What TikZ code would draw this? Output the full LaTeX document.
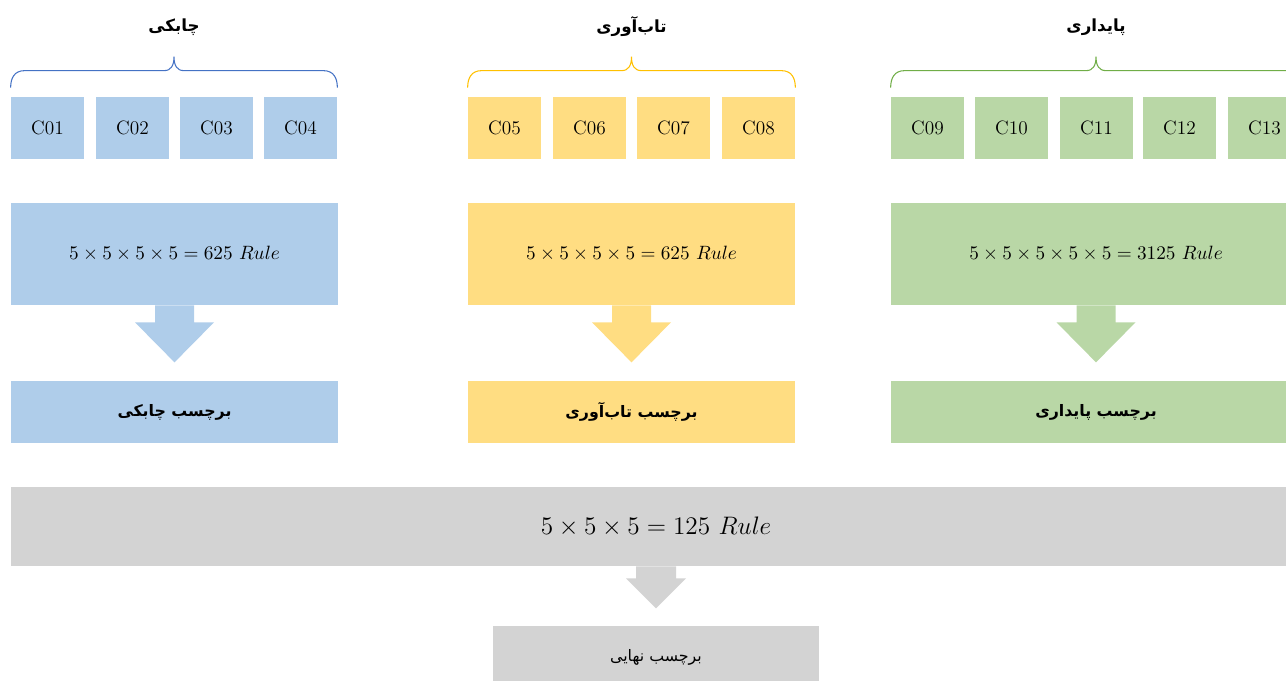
\documentclass[tikz,border=0pt]{standalone}
\usepackage{fontspec}
\usepackage{tikz}
\usetikzlibrary{calc}
\TeXXeTstate=1
\newfontfamily\arabicfont[Script=Arabic]{DejaVu Sans}
\definecolor{agileF}{HTML}{AFCDEA}
\definecolor{agileL}{HTML}{4472C4}
\definecolor{resilF}{HTML}{FFDD82}
\definecolor{resilL}{HTML}{FFC000}
\definecolor{sustF}{HTML}{B9D7A6}
\definecolor{sustL}{HTML}{70AD47}
\definecolor{finalF}{HTML}{D3D3D3}
\def\blockarrow[#1](#2)(#3:#4:#5:#6){\fill[#1] ($(#2)+(-#3,0)$) -- ($(#2)+(#3,0)$) -- ($(#2)+(#3,#4)$) -- ($(#2)+(#5,#4)$) -- ($(#2)+(0,#4+#6)$) -- ($(#2)+(-#5,#4)$) -- ($(#2)+(-#3,#4)$) -- cycle;}
\def\topbrace[#1](#2)(#3){\draw[#1] ($(#2.north west)+(0,-9)$) .. controls ($(#2.north west)+(0,-19)$) and ($(#2.north west)+(4,-26)$) .. ($(#2.north west)+(14,-26)$)
	-- ($(#2.north west)!0.5!(#3.north east)+(-10,-26)$) .. controls ($(#2.north west)!0.5!(#3.north east)+(-3,-26)$) and ($(#2.north west)!0.5!(#3.north east)+(0,-31)$) .. ($(#2.north west)!0.5!(#3.north east)+(0,-40)$)
	.. controls ($(#2.north west)!0.5!(#3.north east)+(0,-31)$) and ($(#2.north west)!0.5!(#3.north east)+(3,-26)$) .. ($(#2.north west)!0.5!(#3.north east)+(10,-26)$)
	-- ($(#3.north east)+(-14,-26)$) .. controls ($(#3.north east)+(-4,-26)$) and ($(#3.north east)+(0,-19)$) .. ($(#3.north east)+(0,-9)$);}

\begin{document}
\begin{tikzpicture}[x=0.2mm, y=-0.2mm,
	cbox/.style={rectangle, minimum width=1.46cm, minimum height=1.24cm, inner sep=0pt, font=\fontsize{11}{13}\selectfont},
	rulebox/.style={rectangle, minimum height=2.04cm, inner sep=0pt, font=\fontsize{11}{14}\selectfont},
	tagbox/.style={rectangle, minimum height=1.24cm, inner sep=0pt, font=\arabicfont\bfseries\fontsize{9}{12}\selectfont},
	title/.style={font=\arabicfont\bfseries\fontsize{9.5}{12}\selectfont}]
	%%%%% START %%%%%
	\clip (0,0) rectangle (1286,681);
	
	% agility
	\node[cbox, fill=agileF] (c01) at (47.5, 128) {C01};
	\node[cbox, fill=agileF] (c02) at (132.5, 128) {C02};
	\node[cbox, fill=agileF] (c03) at (216.5, 128) {C03};
	\node[cbox, fill=agileF] (c04) at (300.5, 128) {C04};
	\topbrace[agileL, line width=0.6pt](c01)(c04)
	\node[title] (agile) at (174, 27) {\beginR چابکی\endR};
	\node[rulebox, fill=agileF, minimum width=6.54cm] (r1) at (174.5, 254) {$5\times5\times5\times5=625\ Rule$};
	\node[tagbox, fill=agileF, minimum width=6.54cm] (t1) at (174.5, 412) {\beginR برچسب چابکی\endR};
	\blockarrow[agileF](r1.south)(19.5:17:39.5:40)
	
	% resilience
	\node[cbox, fill=resilF] (c05) at (504.5, 128) {C05};
	\node[cbox, fill=resilF] (c06) at (589.5, 128) {C06};
	\node[cbox, fill=resilF] (c07) at (673.5, 128) {C07};
	\node[cbox, fill=resilF] (c08) at (758.5, 128) {C08};
	\topbrace[resilL, line width=0.6pt](c05)(c08)
	\node[title] (resil) at (631.5, 27) {\beginR تاب‌آوری\endR};
	\node[rulebox, fill=resilF, minimum width=6.54cm] (r2) at (631.5, 254) {$5\times5\times5\times5=625\ Rule$};
	\node[tagbox, fill=resilF, minimum width=6.54cm] (t2) at (631.5, 412) {\beginR برچسب تاب‌آوری\endR};
	\blockarrow[resilF](r2.south)(19.5:17:39.5:40)
	
	% sustainability
	\node[cbox, fill=sustF] (c09) at (927.5, 128) {C09};
	\node[cbox, fill=sustF] (c10) at (1011.5, 128) {C10};
	\node[cbox, fill=sustF] (c11) at (1096.5, 128) {C11};
	\node[cbox, fill=sustF] (c12) at (1179.5, 128) {C12};
	\node[cbox, fill=sustF] (c13) at (1264.5, 128) {C13};
	\topbrace[sustL, line width=0.6pt](c09)(c13)
	\node[title] (sust) at (1096, 27) {\beginR پایداری\endR};
	\node[rulebox, fill=sustF, minimum width=8.2cm] (r3) at (1096, 254) {$5\times5\times5\times5\times5=3125\ Rule$};
	\node[tagbox, fill=sustF, minimum width=8.2cm] (t3) at (1096, 412) {\beginR برچسب پایداری\endR};
	\blockarrow[sustF](r3.south)(19.5:17:39.5:40)
	
	% final
	\node[rectangle, fill=finalF, minimum width=25.8cm, minimum height=1.58cm, inner sep=0pt, font=\fontsize{14.5}{17}\selectfont] (r4) at (656, 526.5) {$5\times5\times5=125\ Rule$};
	\node[rectangle, fill=finalF, minimum width=6.52cm, minimum height=1.24cm, inner sep=0pt, font=\arabicfont\fontsize{9}{12}\selectfont] (t4) at (656, 657) {\beginR برچسب نهایی\endR};
	\blockarrow[finalF](r4.south)(20:12:30:30)
	
	%%%%% END %%%%%
\end{tikzpicture}
\end{document}
